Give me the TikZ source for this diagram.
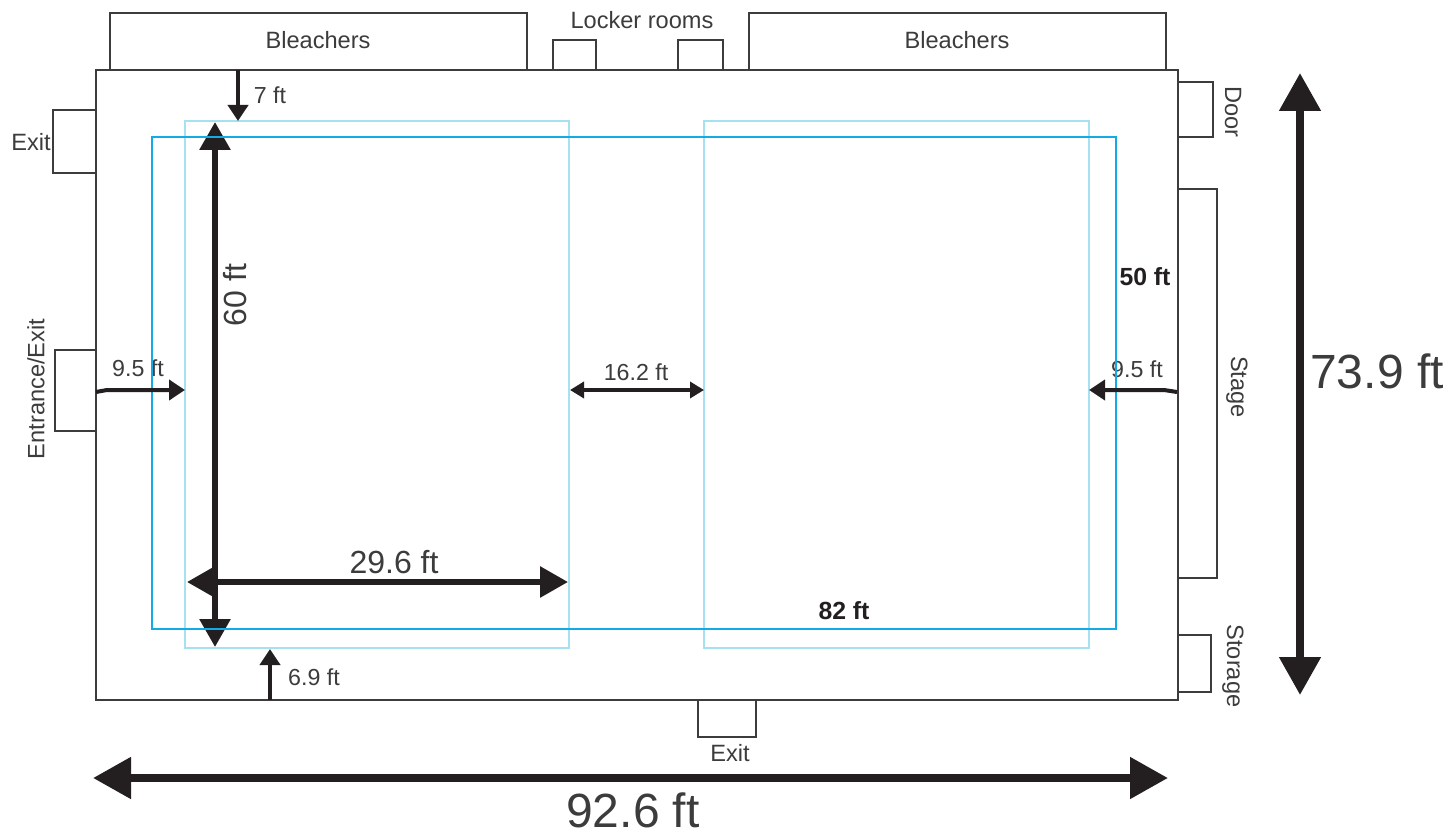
\documentclass[tikz,border=0pt]{standalone}
\usepackage{fontspec}
\setmainfont{Liberation Sans}
\usetikzlibrary{arrows.meta}
\usepackage{xcolor}
\definecolor{courtblue}{RGB}{20,170,230}
\definecolor{netblue}{RGB}{165,225,240}
\definecolor{wallgray}{RGB}{60,60,60}
\definecolor{inkblack}{RGB}{35,31,32}

\begin{document}
\begin{tikzpicture}[
			x=0.5pt,
			y=-0.5pt,
			% Define styles for the plan
			room/.style={draw=wallgray, line width=0.8pt, fill=white},
			court/.style={draw=courtblue, line width=0.8pt},
			volley/.style={draw=netblue, line width=0.8pt},
			label/.style={text=wallgray, inner sep=0pt, font=\fontsize{11.8}{14}\selectfont},
			small/.style={label, font=\fontsize{11.6}{14}\selectfont},
			bold/.style={label, text=inkblack, font=\fontsize{12.4}{14}\selectfont\bfseries},
			big/.style={label, font=\fontsize{16}{19}\selectfont},
			giantlabel/.style={label, font=\fontsize{24}{28}\selectfont},
			arrow/.style={-{Triangle[length=8pt,width=10pt]}, line width=2pt, color=inkblack},
			twoway/.style={{Triangle[length=7pt,width=8pt]}-{Triangle[length=7pt,width=8pt]}, line width=1.8pt, color=inkblack},
			heavy/.style={{Triangle[length=14pt,width=15pt]}-{Triangle[length=14pt,width=15pt]}, line width=3pt, color=inkblack},
			giant/.style={{Triangle[length=19pt,width=20pt]}-{Triangle[length=19pt,width=20pt]}, line width=4pt, color=inkblack}
			]
			\useasboundingbox (0,0) rectangle (1450,834);
			
			% --- Rooms ---
			\draw[room] (110,13) rectangle (527,70);
			\draw[room] (749,13) rectangle (1166,70);
			\draw[room] (553,40) rectangle (596,70);
			\draw[room] (678,40) rectangle (723,70);
			\draw[room] (1178,82) rectangle (1213,137);
			\draw[room] (1178,189) rectangle (1217,578);
			\draw[room] (1178,635) rectangle (1211,692);
			\draw[room] (698,700) rectangle (756,737);
			\draw[room] (53,110) rectangle (96,173);
			\draw[room] (55,350) rectangle (96,431);
			\draw[room] (96,70) rectangle (1178,700);
			
			% --- Courts ---
			\draw[volley] (185,121) rectangle (569,648);
			\draw[volley] (704,121) rectangle (1089,648);
			
			% --- Labels ---
			\node (bleachl) [label] at (318,40) {Bleachers};
			\node (bleachr) [label] at (957,40) {Bleachers};
			\node (locker) [label] at (642,20) {Locker rooms};
			\node (exitl) [label] at (31,142) {Exit};
			\node (exitb) [label] at (730,753) {Exit};
			\node (entrance) [label, rotate=90] at (36,389) {Entrance/Exit};
			\node (door) [label, rotate=-90] at (1233,112) {Door};
			\node (stage) [label, rotate=-90] at (1237,387) {Stage};
			\node (storage) [label, rotate=-90] at (1233,666) {Storage};
			\node (sevenft) [small] at (270,95) {7 ft};
			\node (sixnine) [small] at (314,677) {6.9 ft};
			\node (ninel) [small] at (138,368) {9.5 ft};
			\node (niner) [small] at (1137,369) {9.5 ft};
			\node (sixteen) [small] at (636,372) {16.2 ft};
			\node (fifty) [bold] at (1145,277) {50 ft};
			\node (eighty) [bold] at (844,611) {82 ft};
			\node (sixty) [big, rotate=90] at (235,295) {60 ft};
			\node (twentynine) [big] at (394,562) {29.6 ft};
			\node (seventy) [giantlabel] at (1377,371) {73.9 ft};
			\node (ninetytwo) [giantlabel] at (633,810) {92.6 ft};
			
			% --- Arrow ends ---
			\coordinate (sevena) at (238,70);
			\coordinate (sevenb) at (238,121);
			\coordinate (sixa) at (270,700);
			\coordinate (sixb) at (270,649);
			\coordinate (lefta) at (96,392);
			\coordinate (leftb) at (107,390);
			\coordinate (leftc) at (185,390);
			\coordinate (righta) at (1177,392);
			\coordinate (rightb) at (1164,390);
			\coordinate (rightc) at (1089,390);
			\coordinate (gapa) at (570,390);
			\coordinate (gapb) at (704,390);
			\coordinate (longa) at (215,122);
			\coordinate (longb) at (215,647);
			\coordinate (widea) at (187,582);
			\coordinate (wideb) at (568,582);
			\coordinate (halla) at (1300,73);
			\coordinate (hallb) at (1300,695);
			\coordinate (hallc) at (93,778);
			\coordinate (halld) at (1168,778);
			
			% --- Arrows ---
			\draw[heavy] (longa) -- (longb);
			\draw[heavy] (widea) -- (wideb);
			\draw[court] (152,137) rectangle (1116,629);
			\draw[arrow] (sevena) -- (sevenb);
			\draw[arrow] (sixa) -- (sixb);
			\draw[arrow] (lefta) -- (leftb) -- (leftc);
			\draw[arrow] (righta) -- (rightb) -- (rightc);
			\draw[twoway] (gapa) -- (gapb);
			\draw[giant] (halla) -- (hallb);
			\draw[giant] (hallc) -- (halld);
			
		\end{tikzpicture}
\end{document}
